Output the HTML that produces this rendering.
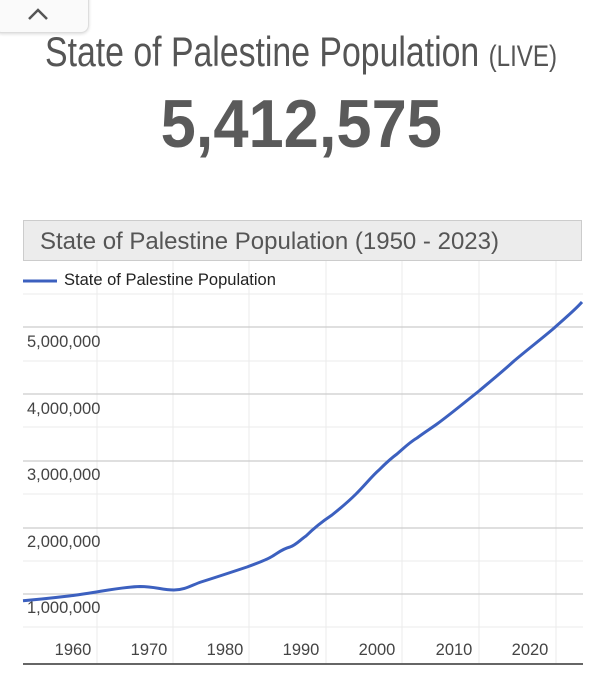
<!DOCTYPE html>
<html><head><style>
body{margin:0;width:603px;height:680px;background:#fff;overflow:hidden;font-family:"Liberation Sans",sans-serif;position:relative}
.tab{position:absolute;left:-6px;top:-6px;width:93px;height:37px;border:1px solid #ddd;border-radius:0 0 8px 8px;background:#fafafa;box-shadow:0 1px 3px rgba(0,0,0,.15)}
.t1{position:absolute;left:-17px;width:603px;top:28px;text-align:center;color:#555;font-size:42px;white-space:nowrap}
.t1 span{display:inline-block;transform:scaleX(.805);transform-origin:center}
.num{position:absolute;left:0;width:603px;top:85px;text-align:center;color:#5a5a5a;font-size:68px;font-weight:bold}
.num span{display:inline-block;transform:scaleX(.93)}
</style></head><body>
<div class="tab"><svg width="93" height="37"><polyline points="34,24 43,15 52,24" fill="none" stroke="#555" stroke-width="2.5"/></svg></div>
<div class="t1"><span>State of Palestine Population <small style="font-size:30px">(LIVE)</small></span></div>
<div class="num"><span>5,412,575</span></div>
<svg width="603" height="680" style="position:absolute;left:0;top:0">
<rect x="23.5" y="220.5" width="558" height="40" fill="#ececec" stroke="#ccc"/>
<text x="40" y="249" font-size="24" fill="#555">State of Palestine Population (1950 - 2023)</text>
<g stroke="#ebebeb" stroke-width="1">
<line x1="97" y1="261" x2="97" y2="663"/><line x1="173" y1="261" x2="173" y2="663"/><line x1="249" y1="261" x2="249" y2="663"/><line x1="326" y1="261" x2="326" y2="663"/><line x1="402" y1="261" x2="402" y2="663"/><line x1="479" y1="261" x2="479" y2="663"/><line x1="556" y1="261" x2="556" y2="663"/>
<line x1="23" y1="294" x2="583" y2="294"/><line x1="23" y1="361" x2="583" y2="361"/><line x1="23" y1="427" x2="583" y2="427"/><line x1="23" y1="494" x2="583" y2="494"/><line x1="23" y1="561" x2="583" y2="561"/><line x1="23" y1="627" x2="583" y2="627"/>
</g>
<g stroke="#ccc" stroke-width="1.2">
<line x1="23" y1="327" x2="583" y2="327"/><line x1="23" y1="394" x2="583" y2="394"/><line x1="23" y1="461" x2="583" y2="461"/><line x1="23" y1="528" x2="583" y2="528"/><line x1="23" y1="594" x2="583" y2="594"/>
</g>
<line x1="23" y1="664" x2="583" y2="664" stroke="#333" stroke-width="1.5"/>
<line x1="23" y1="281" x2="57" y2="281" stroke="#3c60bf" stroke-width="3"/>
<text x="64" y="285" font-size="16.5" fill="#222">State of Palestine Population</text>
<g font-size="16.5" fill="#444">
<text x="27" y="347">5,000,000</text><text x="27" y="414">4,000,000</text><text x="27" y="480">3,000,000</text><text x="27" y="547">2,000,000</text><text x="27" y="613">1,000,000</text>
</g>
<g font-size="16.5" fill="#444" text-anchor="middle">
<text x="73" y="655">1960</text><text x="149" y="655">1970</text><text x="225" y="655">1980</text><text x="301" y="655">1990</text><text x="377" y="655">2000</text><text x="454" y="655">2010</text><text x="530" y="655">2020</text>
</g>
<path d="M23,600.7 C45,599 60,597 73,595.5 C100,592 120,587 140,586.5 C155,586.5 162,590 174,590 C185,590 192,585 201,582 C220,576 235,571 247,567 C258,563 266,560 271,557 C278,553 282,549 290,547 C296,545 300,540 306,536 C312,530 320,523 332,515 C342,507 350,500 356,494 C366,484 372,476 379,470 C385,464 390,459 397,454 C405,447 410,442 417,438 C425,432 430,429 437,424 C452,413 465,402 479,391 C492,380 503,371 514,361 C527,350 540,340 553,329 C565,318 574,311 582,302" fill="none" stroke="#3c60bf" stroke-width="3"/>
</svg>
</body></html>
